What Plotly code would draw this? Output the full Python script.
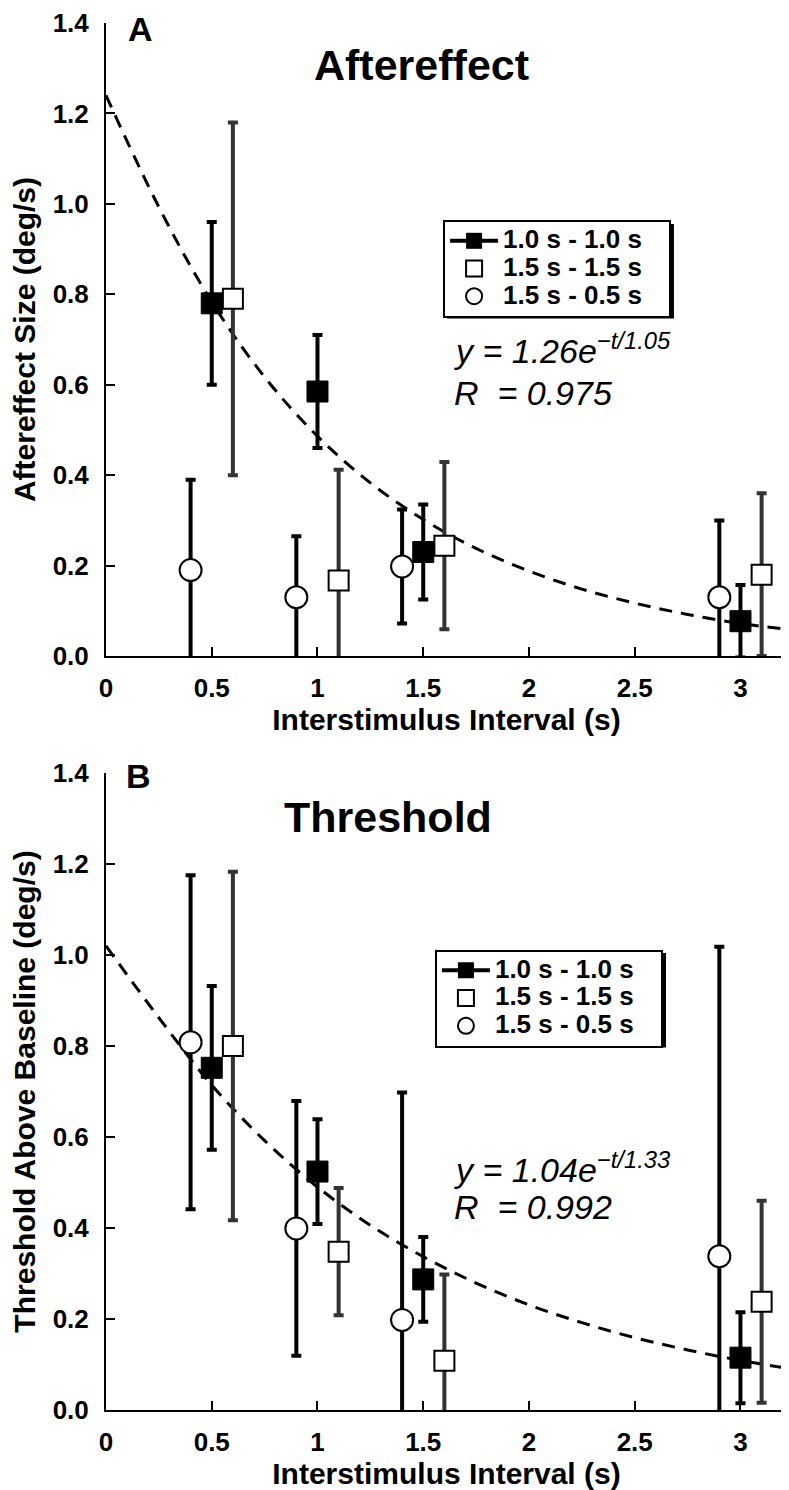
import plotly.graph_objects as go

# interstimulus intervals (s) for each adaptation condition
isi_10_10 = [0.5, 1.0, 1.5, 3.0]   # 1.0 s - 1.0 s
isi_15_15 = [0.6, 1.1, 1.6, 3.1]   # 1.5 s - 1.5 s
isi_15_05 = [0.4, 0.9, 1.4, 2.9]   # 1.5 s - 0.5 s

# panel A: aftereffect size (deg/s) and error half-lengths
ae_10_10 = [0.78, 0.585, 0.23, 0.077]
ae_10_10_err = [0.18, 0.125, 0.105, 0.08]
ae_15_15 = [0.79, 0.167, 0.244, 0.18]
ae_15_15_err = [0.39, 0.245, 0.185, 0.18]
ae_15_05 = [0.19, 0.13, 0.198, 0.13]
ae_15_05_err = [0.20, 0.135, 0.126, 0.17]

# panel B: threshold above baseline (deg/s) and error half-lengths
th_10_10 = [0.752, 0.524, 0.287, 0.115]
th_10_10_err = [0.18, 0.115, 0.093, 0.10]
th_15_15 = [0.80, 0.348, 0.108, 0.238]
th_15_15_err = [0.383, 0.14, 0.19, 0.222]
th_15_05 = [0.808, 0.399, 0.198, 0.338]
th_15_05_err = [0.367, 0.28, 0.50, 0.68]

# exponential fits
fit_t = [0, 0.25, 0.5, 0.75, 1.0, 1.25, 1.5, 1.75, 2.0, 2.25, 2.5, 2.75, 3.0, 3.22]
fit_ae = [1.24, 0.993, 0.783, 0.617, 0.486, 0.383, 0.302, 0.238, 0.188, 0.148, 0.117, 0.092, 0.072, 0.059]
fit_th = [1.02, 0.862, 0.714, 0.592, 0.490, 0.406, 0.337, 0.279, 0.231, 0.192, 0.159, 0.132, 0.109, 0.092]

x_ticks = [0, 0.5, 1, 1.5, 2, 2.5, 3]
x_tick_text = ["0", "0.5", "1", "1.5", "2", "2.5", "3"]
y_ticks = [0, 0.2, 0.4, 0.6, 0.8, 1.0, 1.2, 1.4]
y_tick_text = ["0.0", "0.2", "0.4", "0.6", "0.8", "1.0", "1.2", "1.4"]

cond_names = ["1.0 s - 1.0 s", "1.5 s - 1.5 s", "1.5 s - 0.5 s"]

FONT = "Liberation Sans, Arial, Helvetica, sans-serif"
GRAY = "#333333"
PAD = "\u00a0\u00a0\u00a0"


def leg_label(name):
    # larger text than the legend's own font so the rows stay tight
    return '<span style="font-size:26px">' + name + PAD + "</span>"


fig = go.Figure()


def add_panel(xa, ya, leg, fit_y, y10, e10, y15, e15, y05, e05):
    # fitted curve first so that markers sit on top
    fig.add_trace(go.Scatter(
        x=fit_t, y=fit_y, mode="lines", xaxis=xa, yaxis=ya, showlegend=False,
        line=dict(color="black", width=3, dash="13px,9px"), line_shape="spline"))
    # 1.5 s - 0.5 s : open circles
    fig.add_trace(go.Scatter(
        x=isi_15_05, y=y05, mode="markers", xaxis=xa, yaxis=ya, showlegend=False,
        marker=dict(symbol="circle", size=22, color="white", line=dict(color="black", width=2)),
        error_y=dict(type="data", array=e05, color="black", thickness=4, width=5)))
    # 1.0 s - 1.0 s : filled squares
    fig.add_trace(go.Scatter(
        x=isi_10_10, y=y10, mode="markers", xaxis=xa, yaxis=ya, showlegend=False,
        marker=dict(symbol="square", size=21, color="black", line=dict(color="black", width=1)),
        error_y=dict(type="data", array=e10, color="black", thickness=4, width=5)))
    # 1.5 s - 1.5 s : open squares
    fig.add_trace(go.Scatter(
        x=isi_15_15, y=y15, mode="markers", xaxis=xa, yaxis=ya, showlegend=False,
        marker=dict(symbol="square", size=20, color="white", line=dict(color="black", width=2)),
        error_y=dict(type="data", array=e15, color=GRAY, thickness=4, width=5)))
    # legend entries
    fig.add_trace(go.Scatter(
        x=[None], y=[None], mode="lines+markers", name=leg_label(cond_names[0]), legend=leg,
        xaxis=xa, yaxis=ya, legendrank=1,
        line=dict(color="black", width=4),
        marker=dict(symbol="square", size=16, color="black")))
    fig.add_trace(go.Scatter(
        x=[None], y=[None], mode="markers", name=leg_label(cond_names[1]), legend=leg,
        xaxis=xa, yaxis=ya, legendrank=2,
        marker=dict(symbol="square", size=16, color="white", line=dict(color="black", width=2))))
    fig.add_trace(go.Scatter(
        x=[None], y=[None], mode="markers", name=leg_label(cond_names[2]), legend=leg,
        xaxis=xa, yaxis=ya, legendrank=3,
        marker=dict(symbol="circle", size=16, color="white", line=dict(color="black", width=2))))


add_panel("x", "y", "legend", fit_ae, ae_10_10, ae_10_10_err, ae_15_15, ae_15_15_err, ae_15_05, ae_15_05_err)
add_panel("x2", "y2", "legend2", fit_th, th_10_10, th_10_10_err, th_15_15, th_15_15_err, th_15_05, th_15_05_err)

xaxis_style = dict(
    range=[0, 3.22], tickvals=x_ticks, ticktext=x_tick_text, ticks="inside", ticklen=9,
    tickwidth=2, tickcolor="black", showline=True, linewidth=2, linecolor="black",
    showgrid=False, zeroline=False, automargin=False, ticklabelstandoff=8,
    tickfont=dict(size=26, color="black", family=FONT, weight="bold"),
    title=dict(text="Interstimulus Interval (s)", standoff=6,
               font=dict(size=30, color="black", family=FONT, weight="bold")))
yaxis_style = dict(
    range=[0, 1.4], tickvals=y_ticks, ticktext=y_tick_text, ticks="inside", ticklen=9,
    tickwidth=2, tickcolor="black", showline=True, linewidth=2, linecolor="black",
    showgrid=False, zeroline=False, automargin=False, ticklabelstandoff=10,
    tickfont=dict(size=26, color="black", family=FONT, weight="bold"))

legend_style = dict(
    bgcolor="white", bordercolor="black", borderwidth=2, xanchor="left", yanchor="top",
    tracegroupgap=0, itemwidth=48,
    font=dict(size=19, color="black", family=FONT, weight="bold"))

fig.update_layout(
    width=789, height=1490, template="none",
    paper_bgcolor="white", plot_bgcolor="white",
    margin=dict(l=98, r=10, t=15, b=88),
    font=dict(family=FONT, color="black"),
    xaxis=dict(xaxis_style, domain=[0, 1], anchor="y"),
    yaxis=dict(yaxis_style, domain=[0.5436, 1.0], anchor="x",
               title=dict(text="Aftereffect Size (deg/s)", standoff=34,
                          font=dict(size=30, color="black", family=FONT, weight="bold"))),
    xaxis2=dict(xaxis_style, domain=[0, 1], anchor="y2"),
    yaxis2=dict(yaxis_style, domain=[0, 0.4593], anchor="x2",
                title=dict(text="Threshold Above Baseline (deg/s)", standoff=34,
                           font=dict(size=30, color="black", family=FONT, weight="bold"))),
    legend=dict(legend_style, x=0.495, y=0.858),
    legend2=dict(legend_style, x=0.483, y=0.332),
    showlegend=True,
)

# drop shadows behind the legend boxes
for x0, x1, y0, y1 in [(0.5007, 0.834, 0.787, 0.855), (0.489, 0.8223, 0.2614, 0.3295)]:
    fig.add_shape(type="rect", xref="paper", yref="paper", x0=x0, x1=x1, y0=y0, y1=y1,
                  fillcolor="black", line=dict(width=0), layer="above")

fig.add_annotation(text="<b>A</b>", x=0.05, y=1.0105, yanchor="top",
                   font=dict(size=34, color="black", family=FONT))
fig.add_annotation(text="<b>B</b>", x=0.048, y=0.4568, yanchor="middle",
                   font=dict(size=34, color="black", family=FONT))
fig.add_annotation(text="<b>Aftereffect</b>", x=0.464, y=0.9697, yanchor="middle",
                   font=dict(size=43, color="black", family=FONT))
fig.add_annotation(text="<b>Threshold</b>", x=0.414, y=0.4272, yanchor="middle",
                   font=dict(size=43, color="black", family=FONT))
fig.update_annotations(xref="paper", yref="paper", showarrow=False, xanchor="center")

eq_font = dict(size=34, color="black", family=FONT)
eqs = [
    ("<i>y = 1.26e<sup>\u2212t/1.05</sup></i>", 0.508, 0.765),
    ("<i>R  = 0.975</i>", 0.508, 0.7334),
    ("<i>y = 1.04e<sup>\u2212t/1.33</sup></i>", 0.508, 0.175),
    ("<i>R  = 0.992</i>", 0.508, 0.1463),
]
for txt, ex, ey in eqs:
    fig.add_annotation(xref="paper", yref="paper", showarrow=False, xanchor="left",
                       yanchor="middle", x=ex, y=ey, text=txt, font=eq_font)

fig.write_html("out.html")
